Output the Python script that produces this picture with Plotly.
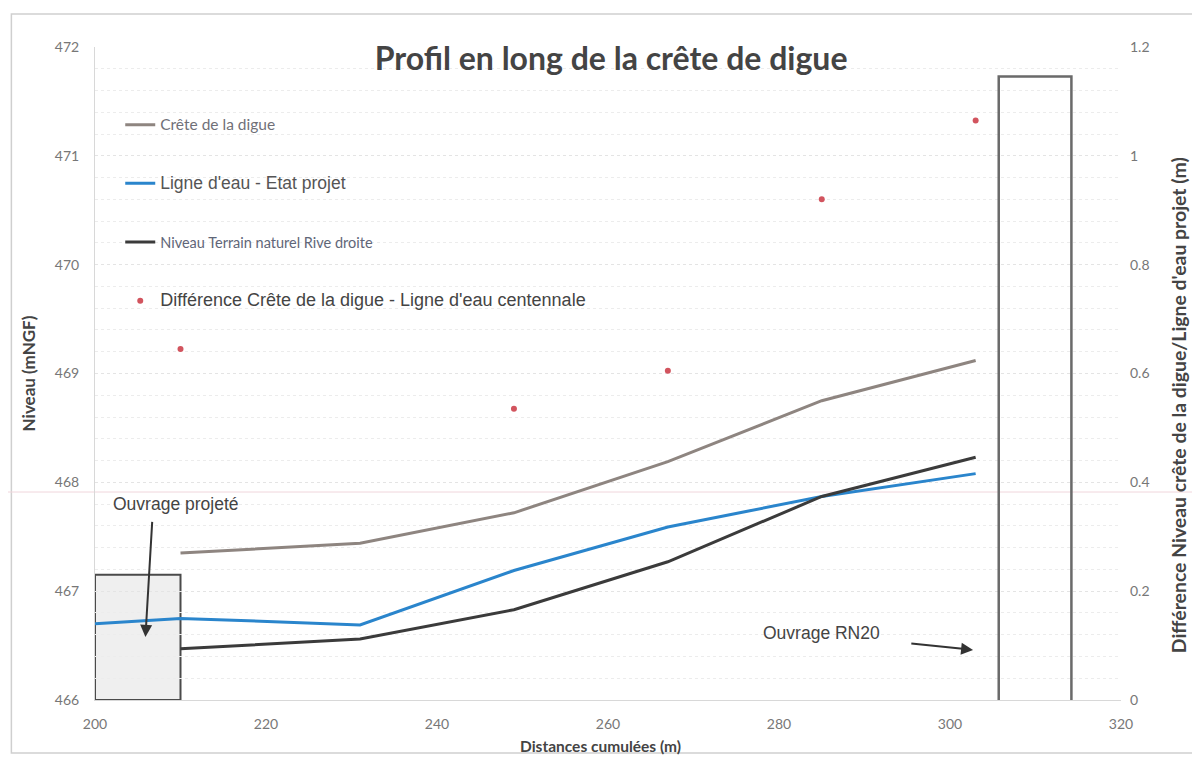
import plotly.graph_objects as go

# Data
dist_crete = [210, 231, 249, 267, 285, 303]
crete = [467.35, 467.44, 467.72, 468.19, 468.75, 469.12]

dist_eau = [200, 210, 231, 249, 267, 285, 303]
ligne_eau = [466.70, 466.75, 466.69, 467.19, 467.59, 467.87, 468.08]

dist_tn = [210, 231, 249, 267, 285, 303]
terrain = [466.47, 466.56, 466.83, 467.27, 467.87, 468.23]

dist_diff = [210, 249, 267, 285, 303]
difference = [0.645, 0.535, 0.605, 0.92, 1.065]

x_ticks = [200, 220, 240, 260, 280, 300, 320]
y_ticks = [466, 467, 468, 469, 470, 471, 472]
y2_ticks = [0, 0.2, 0.4, 0.6, 0.8, 1, 1.2]
y2_labels = ["0", "0.2", "0.4", "0.6", "0.8", "1", "1.2"]

FONT = "Lato, Open Sans, sans-serif"
ARIAL = "Liberation Sans, Arial, sans-serif"


def styled(text, family, size, color):
    return f"<span style='font-family:{family};font-size:{size}px;color:{color}'>{text}</span>"


fig = go.Figure()
fig.add_trace(go.Scatter(x=dist_crete, y=crete, mode="lines",
                         name=styled("Crête de la digue", FONT, 15.5, "#707078"),
                         line=dict(color="#8e8580", width=3), legendgroup="a"))
fig.add_trace(go.Scatter(x=dist_eau, y=ligne_eau, mode="lines",
                         name=styled("Ligne d'eau - Etat projet", ARIAL, 17.5, "#555"),
                         line=dict(color="#2a85cc", width=3), legendgroup="b"))
fig.add_trace(go.Scatter(x=dist_tn, y=terrain, mode="lines",
                         name=styled("Niveau Terrain naturel Rive droite", FONT, 14.5, "#5f6678"),
                         line=dict(color="#3b3b3b", width=3), legendgroup="c"))
fig.add_trace(go.Scatter(x=dist_diff, y=difference, mode="markers", yaxis="y2",
                         name=styled("Différence Crête de la digue - Ligne d'eau centennale", ARIAL, 18, "#444"),
                         marker=dict(color="#d2545e", size=6), legendgroup="d"))

shapes = [
    # outer frame
    dict(type="rect", xref="paper", yref="paper", x0=-0.0815, x1=1.0707, y0=-0.081, y1=1.0505,
         line=dict(color="#cfcfcf", width=1.5), layer="below"),
    # faint scan line
    dict(type="line", xref="paper", yref="paper", x0=-0.093, x1=1.085, y0=0.3185, y1=0.3185,
         line=dict(color="#f0d6dc", width=1), layer="below"),
    # Ouvrage projeté box
    dict(type="rect", xref="x", yref="y", x0=200, x1=210, y0=466, y1=467.15,
         line=dict(color="#4a4a4a", width=2), fillcolor="rgba(225,225,225,0.55)", layer="below"),
    # Ouvrage RN20 box
    dict(type="rect", xref="x", yref="y", x0=305.7, x1=314.2, y0=465.97, y1=471.73,
         line=dict(color="#6a6a6a", width=2.5), fillcolor="rgba(255,255,255,0)"),
]

annotations = [
    dict(text="Ouvrage projeté", x=209.5, y=467.8, xref="x", yref="y", showarrow=False,
         font=dict(family=ARIAL, size=17.5, color="#444")),
    dict(text="", x=205.9, y=466.58, ax=206.7, ay=467.65, xref="x", yref="y", axref="x", ayref="y",
         showarrow=True, arrowhead=2, arrowsize=1.2, arrowwidth=2, arrowcolor="#333"),
    dict(text="Ouvrage RN20", x=285.0, y=466.62, xref="x", yref="y", showarrow=False,
         font=dict(family=ARIAL, size=17.5, color="#444")),
    dict(text="", x=302.7, y=466.46, ax=295.3, ay=466.52, xref="x", yref="y", axref="x", ayref="y",
         showarrow=True, arrowhead=2, arrowsize=1.2, arrowwidth=2, arrowcolor="#333"),
    # x axis title
    dict(text="<b>Distances cumulées (m)</b>", x=0.493, y=-0.0705, xref="paper", yref="paper",
         yanchor="middle", showarrow=False, font=dict(family=FONT, size=15.5, color="#444")),
    # right axis title
    dict(text="<b>Différence Niveau crête de la digue/Ligne d'eau projet (m)</b>",
         x=1.07, y=0.452, xref="paper", yref="paper", showarrow=False, textangle=-90,
         font=dict(family=FONT, size=19.4, color="#444")),
]

# The page body has an 8px margin, so the figure is sized and offset to compensate
fig.update_layout(
    width=1192, height=752,
    paper_bgcolor="white", plot_bgcolor="white",
    margin=dict(l=87, r=79, t=39, b=60, autoexpand=False),
    font=dict(family=FONT, color="#666"),
    title=dict(text="<b>Profil en long de la crête de digue</b>", x=0.506, xanchor="center",
               y=0.932, yanchor="middle", font=dict(family=FONT, size=32, color="#444")),
    showlegend=True,
    legend=dict(x=0.0246, y=0.905, xanchor="left", yanchor="top", bgcolor="rgba(0,0,0,0)",
                font=dict(family=FONT, size=14, color="#555"), tracegroupgap=37.5,
                traceorder="grouped"),
    xaxis=dict(range=[200, 320], tickvals=x_ticks, ticks="", automargin=False,
               showgrid=False, showline=True, linecolor="#d8d8d8", zeroline=False,
               ticklabelstandoff=11,
               tickfont=dict(size=14, color="#777")),
    yaxis=dict(range=[466, 472], tickvals=y_ticks, showgrid=True, gridcolor="#e4e4e4", griddash="dot",
               minor=dict(dtick=0.2, showgrid=True, gridcolor="#ececec", griddash="dot"),
               showline=True, linecolor="#d8d8d8", zeroline=False, ticks="", automargin=False,
               ticklabelstandoff=12,
               tickfont=dict(size=14, color="#777"),
               title=dict(text="<b>Niveau (mNGF)</b>", standoff=14, font=dict(size=17, color="#444"))),
    yaxis2=dict(range=[0, 1.2], tickvals=y2_ticks, ticktext=y2_labels, overlaying="y", side="right",
                showgrid=False, zeroline=False, showline=False, ticks="", automargin=False,
                ticklabelstandoff=8,
                tickfont=dict(size=14, color="#777")),
    shapes=shapes,
    annotations=annotations,
)

fig.write_html("out.html")
